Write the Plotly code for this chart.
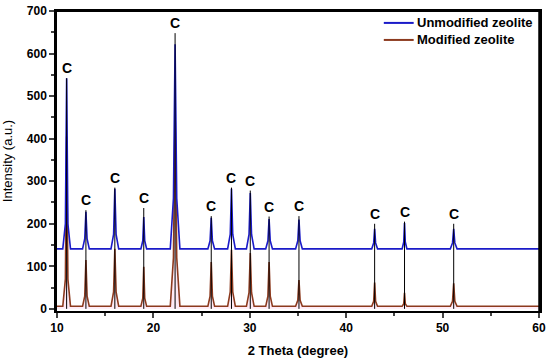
import plotly.graph_objects as go

# ---- data ----
two_theta = [10.0,
             10.6, 10.87, 11.0, 11.13, 11.4,
             12.65, 12.88, 13.0, 13.12, 13.35,
             15.6, 15.87, 16.0, 16.13, 16.4,
             18.7, 18.9, 19.0, 19.1, 19.3,
             21.75, 22.08, 22.25, 22.42, 22.75,
             25.65, 25.88, 26.0, 26.12, 26.35,
             27.7, 27.97, 28.1, 28.23, 28.5,
             29.65, 29.92, 30.05, 30.18, 30.45,
             31.65, 31.88, 32.0, 32.12, 32.35,
             34.75, 34.98, 35.1, 35.22, 35.45,
             42.65, 42.85, 42.95, 43.05, 43.25,
             45.8, 45.97, 46.05, 46.13, 46.3,
             50.8, 51.03, 51.15, 51.27, 51.5,
             60.0]

unmodified = [141,
              141, 200, 542, 200, 141,
              141, 165, 228, 165, 141,
              141, 175, 282, 175, 141,
              141, 160, 216, 160, 141,
              141, 260, 622, 260, 141,
              141, 160, 214, 160, 141,
              141, 175, 282, 175, 141,
              141, 175, 272, 175, 141,
              141, 160, 211, 160, 141,
              141, 160, 210, 160, 141,
              141, 155, 188, 155, 141,
              141, 157, 202, 157, 141,
              141, 155, 188, 155, 141,
              141]

modified = [6,
            6, 70, 405, 70, 6,
            6, 30, 115, 30, 6,
            6, 40, 141, 40, 6,
            6, 25, 99, 25, 6,
            6, 120, 470, 120, 6,
            6, 30, 110, 30, 6,
            6, 40, 139, 40, 6,
            6, 38, 131, 38, 6,
            6, 30, 110, 30, 6,
            6, 20, 68, 20, 6,
            6, 18, 62, 18, 6,
            6, 12, 38, 12, 6,
            6, 18, 60, 18, 6,
            6]

peak_pos = [11.0, 13.0, 16.0, 19.0, 22.25, 26.0, 28.1, 30.05, 32.0, 35.1, 42.95, 46.05, 51.15]
stick_top = [542, 232, 285, 237, 648, 218, 285, 278, 217, 218, 200, 205, 200]
peak_label = "C"

series_names = ["Unmodified zeolite", "Modified zeolite"]
series_colors = ["#1a1ac8", "#8c3a1e"]

x_ticks = [10, 20, 30, 40, 50, 60]
y_ticks = [0, 100, 200, 300, 400, 500, 600, 700]

# ---- figure ----
stick_x, stick_y = [], []
for p, h in zip(peak_pos, stick_top):
    stick_x += [p, p, None]
    stick_y += [0, h, None]

fig = go.Figure()
fig.add_trace(go.Scatter(x=two_theta, y=modified, mode="lines",
                         line=dict(color=series_colors[1], width=1.6),
                         fill="tozeroy", fillcolor="rgba(255,190,225,0.30)",
                         name=series_names[1], showlegend=False, hoverinfo="skip"))
fig.add_trace(go.Scatter(x=two_theta, y=unmodified, mode="lines",
                         line=dict(color=series_colors[0], width=1.6),
                         name=series_names[0], showlegend=False))
fig.add_trace(go.Scatter(x=stick_x, y=stick_y, mode="lines",
                         line=dict(color="black", width=1),
                         showlegend=False, hoverinfo="skip"))

for p, h in zip(peak_pos, stick_top):
    fig.add_annotation(x=p, y=h, text=peak_label, showarrow=False,
                       yanchor="bottom", yshift=0,
                       font=dict(family="Liberation Sans", size=14, color="black", weight="bold"))

# manual legend (top-right, inside the frame)
leg_x0, leg_x1 = 43.9, 47.0
leg_y = [672, 632]
for name, col, ly in zip(series_names, series_colors, leg_y):
    fig.add_shape(type="line", x0=leg_x0, x1=leg_x1, y0=ly, y1=ly,
                  line=dict(color=col, width=2), layer="above")
    fig.add_annotation(x=leg_x1, y=ly, text=name, showarrow=False,
                       xanchor="left", yanchor="middle", xshift=1,
                       font=dict(family="Liberation Sans", size=13, color="black", weight="bold"))

# frame (top and right edges)
fig.add_shape(type="line", xref="paper", yref="paper", x0=0, x1=1, y0=1, y1=1,
              line=dict(color="black", width=2), layer="above")
fig.add_shape(type="line", xref="paper", yref="paper", x0=1, x1=1, y0=0, y1=1,
              line=dict(color="black", width=1.5), layer="above")

fig.update_layout(
    width=550, height=362,
    margin=dict(l=57, r=11, t=11, b=51, autoexpand=False),
    paper_bgcolor="white", plot_bgcolor="white",
    font=dict(family="Liberation Sans", color="black"),
    showlegend=False,
)
fig.update_xaxes(range=[10, 60], tickvals=x_ticks, ticks="outside", ticklen=5, tickwidth=1.5,
                 showline=True, linecolor="black", linewidth=2, mirror=True,
                 showgrid=False, zeroline=False, automargin=False,
                 ticklabeloverflow="allow",
                 minor=dict(dtick=5, ticks="outside", ticklen=3, tickwidth=1.5),
                 tickfont=dict(size=12, weight="bold"),
                 title=dict(text="2 Theta (degree)", font=dict(size=13, weight="bold"), standoff=11))
fig.update_yaxes(range=[-5, 700], tickvals=y_ticks, ticks="outside", ticklen=5, tickwidth=1.5,
                 showline=True, linecolor="black", linewidth=2.5, mirror=True,
                 showgrid=False, zeroline=False, automargin=False,
                 ticklabeloverflow="allow",
                 minor=dict(dtick=50, ticks="outside", ticklen=3, tickwidth=1.5),
                 tickfont=dict(size=12, weight="bold"),
                 title=dict(text="Intensity (a.u.)", font=dict(size=13), standoff=18))

# the page body has a default 8px margin; remove it so the figure fills the window
fig.write_html("out.html", config={"displayModeBar": False},
               post_script="document.body.style.margin='0';")
